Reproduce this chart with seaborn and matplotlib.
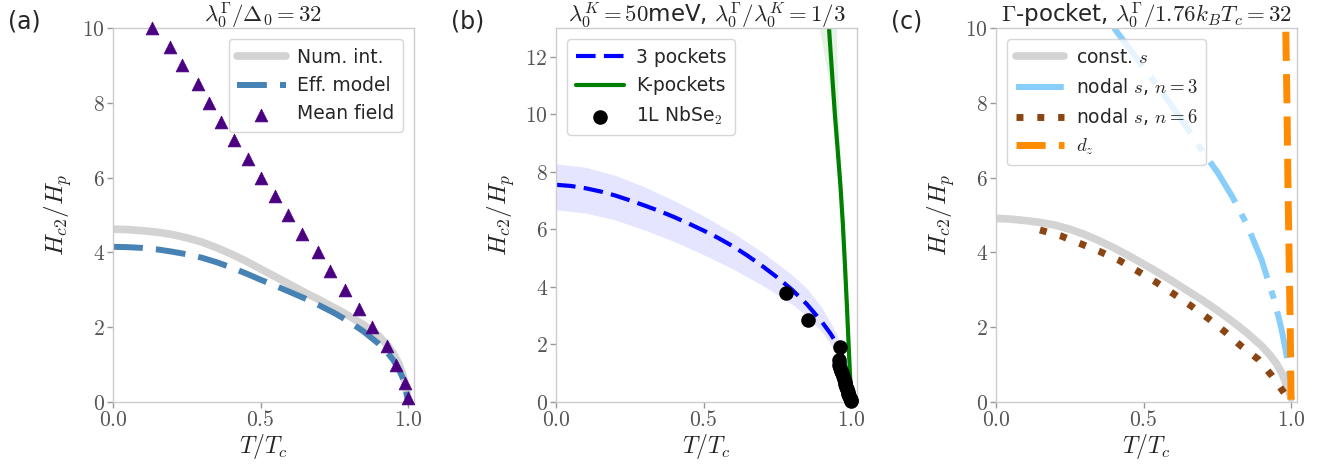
import numpy as np
import pandas as pd
import matplotlib
matplotlib.use("Agg")
import matplotlib.pyplot as plt
import seaborn as sns
from matplotlib.ticker import FuncFormatter, FixedLocator

# ---------------- data ----------------
# (a)
T_num_a = [0.0, 0.05, 0.1, 0.15, 0.2, 0.25, 0.3, 0.35, 0.4, 0.45, 0.5, 0.55, 0.6,
           0.65, 0.7, 0.75, 0.8, 0.85, 0.9, 0.93, 0.95, 0.97, 0.98, 0.99, 1.0]
H_num_a = [4.62, 4.61, 4.58, 4.54, 4.48, 4.39, 4.28, 4.13, 3.96, 3.77, 3.56, 3.35, 3.14,
           2.93, 2.73, 2.52, 2.3, 2.06, 1.77, 1.52, 1.3, 1.0, 0.78, 0.5, 0.1]
T_eff_a = [0.0, 0.05, 0.1, 0.15, 0.2, 0.25, 0.3, 0.35, 0.4, 0.45, 0.5, 0.55, 0.6,
           0.65, 0.7, 0.75, 0.8, 0.85, 0.9, 0.93, 0.95, 0.97, 0.98, 0.99, 1.0]
H_eff_a = [4.15, 4.14, 4.12, 4.08, 4.02, 3.95, 3.86, 3.74, 3.6, 3.44, 3.27, 3.11, 2.94,
           2.77, 2.58, 2.38, 2.15, 1.88, 1.56, 1.32, 1.12, 0.85, 0.68, 0.45, 0.0]
T_mf = [0.133, 0.194, 0.235, 0.287, 0.325, 0.366, 0.41, 0.458, 0.502, 0.55, 0.592,
        0.642, 0.695, 0.735, 0.785, 0.834, 0.876, 0.927, 0.958, 0.989, 0.998]
H_mf = [10.0, 9.5, 9.0, 8.5, 8.0, 7.5, 7.0, 6.5, 6.0, 5.5, 5.0,
        4.5, 4.0, 3.5, 3.0, 2.5, 2.0, 1.5, 1.0, 0.5, 0.1]

# (b)
T_3p = [0.0, 0.05, 0.1, 0.15, 0.2, 0.25, 0.3, 0.35, 0.4, 0.45, 0.5, 0.55, 0.6,
        0.65, 0.7, 0.75, 0.8, 0.85, 0.9, 0.93, 0.95, 0.97, 0.98, 0.99, 1.0]
H_3p = [7.55, 7.51, 7.43, 7.32, 7.18, 7.01, 6.83, 6.64, 6.43, 6.2, 5.96, 5.7, 5.41,
        5.08, 4.72, 4.33, 3.9, 3.4, 2.8, 2.38, 2.05, 1.6, 1.3, 0.9, 0.0]
T_band = [0.0, 0.1, 0.2, 0.3, 0.4, 0.5, 0.6, 0.7, 0.8, 0.85, 0.9, 0.95, 0.98, 1.0]
H_3p_hi = [8.28, 8.16, 7.88, 7.48, 7.0, 6.47, 5.88, 5.2, 4.42, 3.95, 3.3, 2.4, 1.55, 0.0]
H_3p_lo = [6.68, 6.57, 6.33, 5.98, 5.58, 5.12, 4.62, 4.05, 3.4, 2.98, 2.45, 1.72, 1.08, 0.0]
T_K = [0.921, 0.925, 0.935, 0.945, 0.955, 0.964, 0.972, 0.979, 0.986, 0.992, 0.997, 1.0]
H_K = [13.5, 13.0, 11.5, 10.0, 8.7, 7.5, 6.2, 4.8, 3.3, 1.9, 0.8, 0.0]
H_K_band = [13.5, 13.0, 12.0, 11.0, 10.0, 9.0, 0.0]
T_K_lo = [0.885, 0.892, 0.91, 0.926, 0.94, 0.952, 1.0]
T_K_hi = [0.95, 0.95, 0.952, 0.955, 0.958, 0.961, 1.0]
T_exp = [0.78, 0.853, 0.964, 0.958, 0.958, 0.962, 0.966, 0.969, 0.972, 0.975, 0.978,
         0.98, 0.983, 0.985, 0.988, 0.99, 0.993, 0.995, 0.998, 1.0]
H_exp = [3.8, 2.85, 1.92, 1.46, 1.29, 1.18, 1.08, 1.0, 0.9, 0.8, 0.7,
         0.62, 0.52, 0.45, 0.36, 0.28, 0.2, 0.14, 0.08, 0.03]

# (c)
T_const = [0.0, 0.05, 0.1, 0.15, 0.2, 0.25, 0.3, 0.35, 0.4, 0.45, 0.5, 0.55, 0.6,
           0.65, 0.7, 0.75, 0.8, 0.85, 0.9, 0.93, 0.95, 0.97, 0.98, 0.99, 1.0]
H_const = [4.91, 4.89, 4.85, 4.8, 4.73, 4.62, 4.48, 4.31, 4.12, 3.91, 3.69, 3.46, 3.22,
           2.97, 2.72, 2.45, 2.16, 1.85, 1.5, 1.24, 1.03, 0.75, 0.55, 0.33, 0.1]
T_n3 = [0.40, 0.45, 0.50, 0.55, 0.60, 0.65, 0.70, 0.75, 0.80, 0.85, 0.88, 0.90,
        0.92, 0.94, 0.96, 0.97, 0.98, 0.99, 1.0]
H_n3 = [10.0, 9.47, 8.95, 8.42, 7.87, 7.3, 6.7, 6.15, 5.5, 4.75, 4.18, 3.8,
        3.3, 2.8, 2.2, 1.85, 1.45, 1.0, 0.3]
T_n6 = [0.149, 0.22, 0.284, 0.35, 0.419, 0.48, 0.543, 0.60, 0.661, 0.72, 0.777,
        0.83, 0.889, 0.935, 0.976]
H_n6 = [4.6, 4.44, 4.24, 4.03, 3.78, 3.5, 3.2, 2.9, 2.57, 2.23, 1.87,
        1.5, 1.14, 0.7, 0.25]
T_dz = [0.982, 0.986, 0.989, 0.993, 0.997, 1.0]
H_dz = [9.9, 8.0, 6.0, 4.0, 2.0, 0.0]

titles = [r"$\lambda_0^\Gamma/\Delta_0=32$",
          r"$\lambda_0^K=50$meV, $\lambda_0^\Gamma/\lambda_0^K=1/3$",
          r"$\Gamma$-pocket, $\lambda_0^\Gamma/1.76k_BT_c=32$"]
panel_labels = ["(a)", "(b)", "(c)"]
xticks = [0.0, 0.5, 1.0]

# ---------------- style ----------------
sns.set_style("white")
plt.rcParams["font.family"] = ["DejaVu Sans"]
plt.rcParams["mathtext.fontset"] = "cm"
plt.rcParams["axes.edgecolor"] = "#cccccc"

fig = plt.figure(figsize=(13.3, 4.66), dpi=100)
W, Hf = 1330, 466
lefts = [113, 556, 996]
axes = []
for L in lefts:
    ax = fig.add_axes([L / W, 1 - 402 / Hf, 301 / W, (402 - 28) / Hf])
    axes.append(ax)

LEG = dict(fontsize=13.5, handlelength=2.6, handletextpad=0.6, borderpad=0.45,
           framealpha=0.8, borderaxespad=0.6, labelspacing=0.5)


def line(ax, x, y, **kw):
    df = pd.DataFrame({"x": x, "y": y})
    sns.lineplot(data=df, x="x", y="y", ax=ax, sort=False, estimator=None,
                 errorbar=None, **kw)


# (a)
ax = axes[0]
line(ax, T_num_a, H_num_a, color="lightgray", lw=5.5, label="Num. int.")
line(ax, T_eff_a, H_eff_a, color="steelblue", lw=4.3, linestyle=(0, (5, 2.2)),
     label="Eff. model")
sns.scatterplot(x=T_mf, y=H_mf, ax=ax, marker="^", s=85, color="indigo",
                edgecolor="indigo", linewidth=0.5, label="Mean field", zorder=3,
                clip_on=False)
ax.set_ylim(0, 10)
ax.set_yticks([0, 2, 4, 6, 8, 10])
ax.legend(loc="upper right", **LEG)

# (b)
ax = axes[1]
ax.fill_between(T_band, H_3p_lo, H_3p_hi, color="blue", alpha=0.1, lw=0)
ax.fill_betweenx(H_K_band, T_K_lo, T_K_hi, color="green", alpha=0.1, lw=0)
line(ax, T_3p, H_3p, color="blue", lw=3, linestyle=(0, (4.7, 2)),
     label="3 pockets")
line(ax, T_K, H_K, color="green", lw=3, label="K-pockets")
sns.scatterplot(x=T_exp, y=H_exp, ax=ax, s=110, color="black", edgecolor="black",
                linewidth=0, label=r"1L NbSe$_2$", zorder=3, clip_on=False)
ax.set_ylim(0, 13)
ax.set_yticks([0, 2, 4, 6, 8, 10, 12])
ax.legend(loc="upper left", **LEG)

# (c)
ax = axes[2]
line(ax, T_const, H_const, color="lightgray", lw=5.5, label=r"const. $s$")
line(ax, T_n3, H_n3, color="lightskyblue", lw=4.3,
     linestyle=(0, (8, 2.2, 1.4, 2.2)), label=r"nodal $s$, $n=3$")
line(ax, T_n6, H_n6, color="saddlebrown", lw=5, linestyle=(0, (1, 2)),
     label=r"nodal $s$, $n=6$")
line(ax, T_dz, H_dz, color="darkorange", lw=5, linestyle=(0, (4.2, 1.9)),
     label=r"$d_z$")
ax.set_ylim(0, 10)
ax.set_yticks([0, 2, 4, 6, 8, 10])
ax.legend(loc="upper left", **LEG)

fmt_x = FuncFormatter(lambda v, p: r"$%.1f$" % v)
fmt_y = FuncFormatter(lambda v, p: r"$%d$" % round(v))
for i, ax in enumerate(axes):
    ax.set_xlim(0, 1.02)
    ax.xaxis.set_major_locator(FixedLocator(xticks))
    ax.xaxis.set_major_formatter(fmt_x)
    ax.yaxis.set_major_formatter(fmt_y)
    ax.tick_params(axis="both", which="major", direction="out", length=4,
                   width=1, color="#999999", labelcolor="#555555",
                   labelsize=15.5, bottom=True, left=True, pad=2)
    for s in ax.spines.values():
        s.set_color("#cccccc")
        s.set_linewidth(1)
    ax.set_xlabel(r"$T/T_c$", fontsize=17, labelpad=1)
    ax.set_ylabel(r"$H_{c2}/H_p$", fontsize=18, labelpad=6)
    ax.set_title(titles[i], fontsize=16.5, pad=4)
    fig.text((lefts[i] - 105) / W, 1 - 22 / Hf, panel_labels[i], fontsize=17,
             va="center", ha="left")

fig.savefig("out.png", dpi=100)
